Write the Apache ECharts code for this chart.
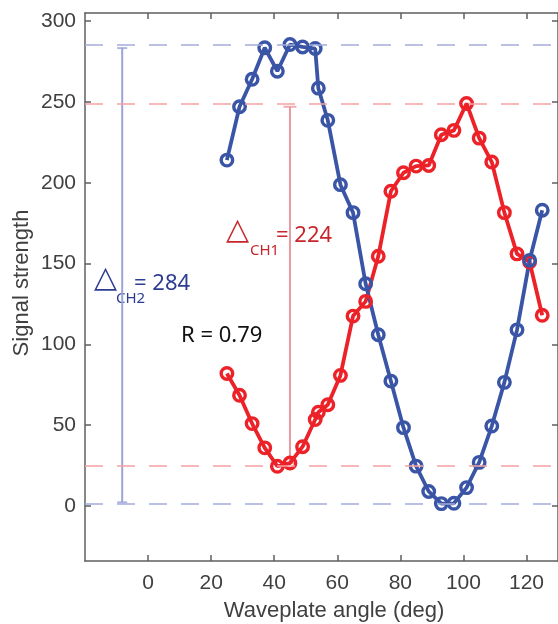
<!DOCTYPE html>
<html>
<head>
<meta charset="utf-8">
<script src="https://cdn.jsdelivr.net/npm/echarts@6/dist/echarts.min.js"></script>
<style>html,body{margin:0;padding:0;background:#fff;}#c{width:558px;height:624px;}</style>
</head>
<body>
<div id="c"></div>
<script>
// ---- data ----
const angles = [25, 29, 33, 37, 41, 45, 49, 53, 54, 57, 61, 65, 69, 73, 77, 81, 85, 89, 93, 97, 101, 105, 109, 113, 117, 121, 125];
const ch1 = [82, 68.5, 51, 36, 24.6, 26.6, 36.7, 53.5, 58, 62.7, 80.8, 117.5, 126.6, 154.5, 194.7, 206.2, 210.3, 210.7, 229.7, 232.4, 249, 227.6, 212.8, 181.5, 156, 151, 118];
const ch2 = [214, 247, 264, 283.5, 269, 285.5, 284, 283, 258.5, 238.6, 198.8, 181.5, 137.5, 106, 77.3, 48.5, 24.7, 9, 1.5, 1.7, 11.4, 27, 49.5, 76.5, 109, 152, 183];
const ch1Levels = [249, 24.7];
const ch2Levels = [285.5, 1.5];
const ch1BarX = 45.0;
const ch1BarRange = [26.6, 247];
const ch2BarX = -8.2;
const ch2BarRange = [2.3, 283.3];
const xTicks = [0, 20, 40, 60, 80, 100, 120];
const yTicks = [0, 50, 100, 150, 200, 250, 300];
const xRange = [-20, 130];
const yRange = [-34, 305];
const ch1Delta = 224;
const ch2Delta = 284;
const rValue = 0.79;

const BLUE = '#3a55a6';
const RED = '#ec2228';
const BLUE_LIGHT = '#a4acdb';
const RED_LIGHT = '#f3a2a4';
const AX = '#5f5f5f';
const LBL = '#404040';
const F = 'Liberation Sans, Arial, sans-serif';
const FA = 'Noto Sans, Open Sans, sans-serif';
const FT = 'DejaVu Sans, sans-serif';

function pairs(xs, ys) { return xs.map((x, i) => [x, ys[i]]); }

const chart = echarts.init(document.getElementById('c'), null, {renderer: 'canvas'});

function xAx(pos, labels) {
  return {
    type: 'value', min: xRange[0], max: xRange[1], position: pos,
    axisLine: {show: true, onZero: false, lineStyle: {color: AX, width: 1.5}},
    axisTick: {show: true, inside: true, length: 6, customValues: xTicks, lineStyle: {color: AX, width: 1.5}},
    axisLabel: {show: labels, customValues: xTicks, fontSize: 21, color: LBL, margin: 12, fontFamily: F},
    splitLine: {show: false}
  };
}
function yAx(pos, labels) {
  return {
    type: 'value', min: yRange[0], max: yRange[1], position: pos,
    axisLine: {show: true, onZero: false, lineStyle: {color: AX, width: 1.5}},
    axisTick: {show: true, inside: true, length: 6, customValues: yTicks, lineStyle: {color: AX, width: 1.5}},
    axisLabel: {show: labels, customValues: yTicks, fontSize: 21, color: LBL, margin: 9, fontFamily: F},
    splitLine: {show: false}
  };
}

const levelLine = (vals, color) => ({
  type: 'line', data: [], silent: true,
  markLine: {
    silent: true, symbol: 'none', label: {show: false},
    lineStyle: {color: color, type: [18, 14], width: 1.5},
    data: vals.map(v => ({yAxis: v}))
  }
});

const bar = (x, range, color) => ({
  type: 'line', data: [[x, range[0]], [x, range[1]]], symbol: 'none',
  lineStyle: {color: color, width: 2}, silent: true, z: 1
});
const caps = (x, range, color, w) => ({
  type: 'scatter', data: [[x, range[0]], [x, range[1]]], symbol: 'rect',
  symbolSize: [w, 2], itemStyle: {color: color}, silent: true, z: 1
});

const dataSeries = (ys, color) => ({
  type: 'line', data: pairs(angles, ys), symbol: 'circle', symbolSize: 11.5,
  lineStyle: {color: color, width: 3.8},
  itemStyle: {color: 'rgba(255,255,255,0)', borderColor: color, borderWidth: 3.4},
  z: 3, silent: true
});

chart.setOption({
  animation: false,
  grid: {left: 85, top: 13, width: 477, height: 548, containLabel: false},
  xAxis: [xAx('bottom', true), xAx('top', false)],
  yAxis: [yAx('left', true), yAx('right', false)],
  series: [
    levelLine(ch2Levels, BLUE_LIGHT),
    levelLine(ch1Levels, RED_LIGHT),
    bar(ch2BarX, ch2BarRange, '#9ca3d7'),
    caps(ch2BarX, ch2BarRange, '#9ca3d7', 10),
    bar(ch1BarX, ch1BarRange, '#e99aa0'),
    caps(ch1BarX, ch1BarRange, '#e99aa0', 13),
    dataSeries(ch1, RED),
    dataSeries(ch2, BLUE)
  ],
  graphic: [
    {type: 'text', x: 22, y: 283, rotation: Math.PI / 2,
     style: {text: 'Signal strength', font: '22px ' + F, fill: LBL, align: 'center', verticalAlign: 'middle'}},
    {type: 'text', x: 334, y: 611,
     style: {text: 'Waveplate angle (deg)', font: '22px ' + F, fill: LBL, align: 'center', verticalAlign: 'middle'}},
    // CH2 annotation
    {type: 'text', x: 94, y: 294, style: {text: '△', font: '30px ' + FT, fill: '#2d3c93', align: 'left', verticalAlign: 'bottom'}},
    {type: 'text', x: 116, y: 299, style: {text: 'CH2', font: '15px ' + FA, fill: '#2d3c93', align: 'left', verticalAlign: 'middle'}},
    {type: 'text', x: 134, y: 284, style: {text: '= ' + ch2Delta, font: '22px ' + FA, fill: '#2d3c93', align: 'left', verticalAlign: 'middle'}},
    // CH1 annotation
    {type: 'text', x: 226, y: 246, style: {text: '△', font: '30px ' + FT, fill: '#c8262d', align: 'left', verticalAlign: 'bottom'}},
    {type: 'text', x: 250, y: 251, style: {text: 'CH1', font: '15px ' + FA, fill: '#c8262d', align: 'left', verticalAlign: 'middle'}},
    {type: 'text', x: 276, y: 236, style: {text: '= ' + ch1Delta, font: '22px ' + FA, fill: '#c8262d', align: 'left', verticalAlign: 'middle'}},
    // R value
    {type: 'text', x: 181, y: 336, style: {text: 'R = ' + rValue.toFixed(2), font: '22px ' + FA, fill: '#111', align: 'left', verticalAlign: 'middle'}}
  ]
});
</script>
</body>
</html>
